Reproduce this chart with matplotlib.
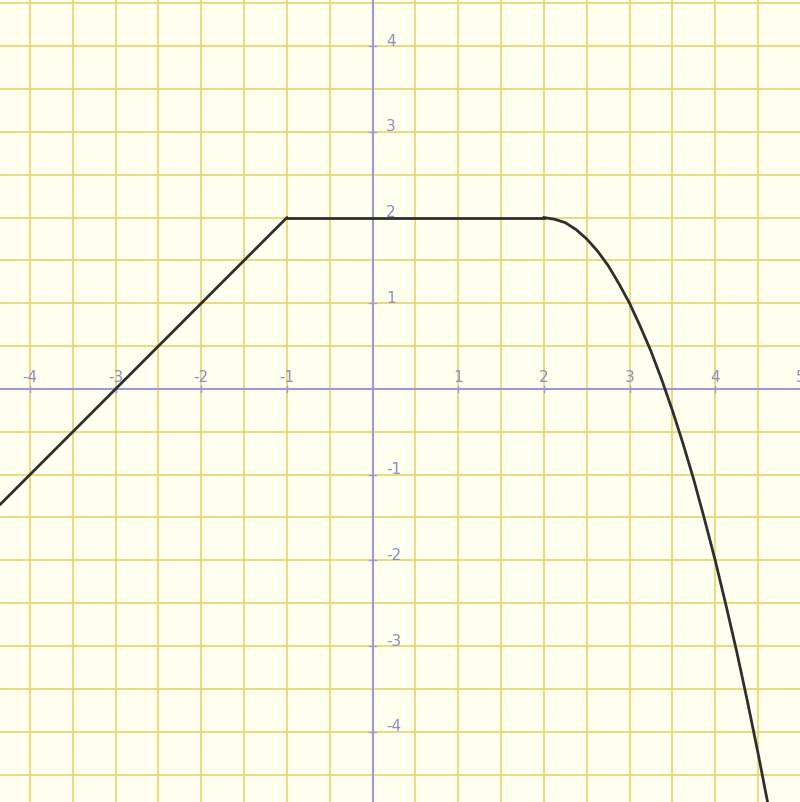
import matplotlib
matplotlib.use("Agg")
import matplotlib.pyplot as plt
import numpy as np

# Curve points
left_x = [-4.35, -3.0, -1.0]
left_y = [-1.35, 0.0, 2.0]
flat_x = [-1.0, 2.0]
flat_y = [2.0, 2.0]
curve_x = [2.0, 2.125, 2.25, 2.375, 2.5, 2.625, 2.75, 2.875, 3.0, 3.125, 3.25, 3.375, 3.5,
           3.625, 3.75, 3.875, 4.0, 4.125, 4.25, 4.375, 4.5, 4.625, 4.75]
curve_y = [2.0, 1.98, 1.94, 1.86, 1.75, 1.61, 1.44, 1.23, 1.0, 0.73, 0.44, 0.11, -0.25,
           -0.64, -1.06, -1.52, -2.0, -2.52, -3.06, -3.64, -4.25, -4.89, -5.56]

x_ticks = [-4, -3, -2, -1, 1, 2, 3, 4, 5]
y_ticks = [-4, -3, -2, -1, 1, 2, 3, 4]
x_tick_labels = ["-4", "-3", "-2", "-1", "1", "2", "3", "4", "5"]
y_tick_labels = ["-4", "-3", "-2", "-1", "1", "2", "3", "4"]

xmin, xmax = -4.35, 4.99
ymin, ymax = -4.82, 4.55

fig = plt.figure(figsize=(8.0, 8.03), dpi=100)
ax = fig.add_axes([0, 0, 1, 1])
ax.set_facecolor("#FFFFF0")
ax.set_xlim(xmin, xmax)
ax.set_ylim(ymin, ymax)
ax.axis("off")
ax.add_patch(plt.Rectangle((xmin, ymin), xmax - xmin, ymax - ymin, color="#FFFFF0", zorder=0))

grid_color = "#E9D36E"
for gx in np.arange(-4.5, 5.01, 0.5):
    ax.axvline(gx, color=grid_color, lw=1.2, zorder=1)
for gy in np.arange(-5.0, 4.51, 0.5):
    ax.axhline(gy, color=grid_color, lw=1.2, zorder=1)

axis_color = "#9A9AD8"
ax.axhline(0, color=axis_color, lw=1.5, zorder=2)
ax.axvline(0, color=axis_color, lw=1.5, zorder=2)

label_color = "#8C8CC8"
for t, lab in zip(x_ticks, x_tick_labels):
    ax.plot([t, t], [-0.04, 0.04], color=axis_color, lw=1, zorder=2)
    ax.text(t, 0.15, lab, color=label_color, fontsize=11, ha="center", va="center", zorder=3)
for t, lab in zip(y_ticks, y_tick_labels):
    ax.plot([-0.04, 0.04], [t, t], color=axis_color, lw=1, zorder=2)
    ax.text(0.16, t + 0.07, lab, color=label_color, fontsize=11, ha="left", va="center", zorder=3)

line_color = "#2E2E2E"
ax.plot(left_x, left_y, color=line_color, lw=2, zorder=4, solid_capstyle="round")
ax.plot(flat_x, flat_y, color=line_color, lw=2, zorder=4)
ax.plot(curve_x, curve_y, color=line_color, lw=2, zorder=4)

fig.savefig("out.png", dpi=100, facecolor="#FFFFF0")
